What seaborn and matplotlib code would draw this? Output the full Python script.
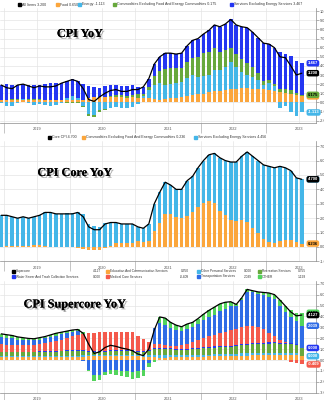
import numpy as np
import pandas as pd
import matplotlib
matplotlib.use("Agg")
import matplotlib.pyplot as plt
import matplotlib.patheffects as pe
from matplotlib.patches import Rectangle
from matplotlib.ticker import FormatStrFormatter
from matplotlib.transforms import blended_transform_factory
import seaborn as sns

# ---------------------------------------------------------------- data
months = pd.period_range("2018-12", "2023-07", freq="M")
year_labels = ["2019", "2020", "2021", "2022", "2023"]

# CPI YoY (%) and contributions (pp)
all_items = [1.9,
             1.6, 1.5, 1.9, 2.0, 1.8, 1.6, 1.8, 1.7, 1.7, 1.8, 2.1, 2.3,
             2.5, 2.3, 1.5, 0.3, 0.1, 0.6, 1.0, 1.3, 1.4, 1.2, 1.2, 1.4,
             1.4, 1.7, 2.6, 4.2, 5.0, 5.4, 5.4, 5.3, 5.4, 6.2, 6.8, 7.0,
             7.5, 7.9, 8.5, 8.3, 8.6, 9.1, 8.5, 8.3, 8.2, 7.7, 7.1, 6.5,
             6.4, 6.0, 5.0, 4.9, 4.0, 3.0, 3.2]
food = [0.21,
        0.22, 0.27, 0.28, 0.24, 0.27, 0.26, 0.24, 0.23, 0.24, 0.28, 0.27, 0.24,
        0.25, 0.25, 0.27, 0.49, 0.56, 0.63, 0.57, 0.57, 0.55, 0.55, 0.52, 0.55,
        0.53, 0.50, 0.49, 0.34, 0.31, 0.34, 0.48, 0.52, 0.64, 0.74, 0.85, 0.88,
        0.96, 1.08, 1.21, 1.29, 1.38, 1.42, 1.49, 1.56, 1.53, 1.49, 1.45, 1.42,
        1.36, 1.28, 1.15, 1.04, 0.90, 0.77, 0.65]
energy = [-0.02,
          -0.37, -0.39, -0.03, 0.13, -0.05, -0.26, -0.15, -0.34, -0.37, -0.32, -0.05, 0.26,
          0.47, 0.21, -0.43, -1.33, -1.38, -0.88, -0.75, -0.60, -0.52, -0.62, -0.63, -0.47,
          -0.23, 0.15, 0.84, 1.61, 1.82, 1.57, 1.52, 1.60, 1.59, 1.92, 2.13, 1.88,
          1.97, 1.87, 2.34, 2.21, 2.53, 3.04, 2.40, 1.74, 1.45, 1.28, 0.96, 0.53,
          0.77, 0.46, -0.57, -0.45, -1.04, -1.49, -1.113]
core_goods = [0.02,
              0.06, 0.08, 0.04, 0.04, 0.08, 0.12, 0.10, 0.04, 0.02, 0.00, 0.02, -0.02,
              -0.02, -0.04, -0.12, -0.18, -0.18, -0.14, -0.08, 0.08, 0.22, 0.22, 0.20, 0.24,
              0.35, 0.27, 0.35, 0.90, 1.33, 1.78, 1.78, 1.62, 1.56, 1.72, 1.93, 2.19,
              2.46, 2.58, 2.46, 2.04, 1.79, 1.49, 1.47, 1.49, 1.39, 1.07, 0.78, 0.44,
              0.28, 0.22, 0.32, 0.43, 0.43, 0.28, 0.175]
core_services = [1.69,
                 1.69, 1.54, 1.61, 1.59, 1.50, 1.48, 1.61, 1.77, 1.81, 1.84, 1.86, 1.82,
                 1.80, 1.88, 1.78, 1.32, 1.10, 0.99, 1.26, 1.25, 1.15, 1.05, 1.11, 1.08,
                 0.75, 0.78, 0.92, 1.35, 1.54, 1.71, 1.62, 1.56, 1.61, 1.82, 1.89, 2.05,
                 2.11, 2.37, 2.49, 2.76, 2.90, 3.15, 3.14, 3.51, 3.83, 3.86, 3.91, 4.11,
                 3.99, 4.04, 4.10, 3.88, 3.71, 3.44, 3.467]

# Core CPI YoY (%) and contributions (pp)
core_cpi = [2.2,
            2.2, 2.1, 2.0, 2.1, 2.0, 2.1, 2.2, 2.4, 2.4, 2.3, 2.3, 2.3,
            2.3, 2.4, 2.1, 1.4, 1.2, 1.2, 1.6, 1.7, 1.7, 1.6, 1.6, 1.6,
            1.4, 1.3, 1.6, 3.0, 3.8, 4.5, 4.3, 4.0, 4.0, 4.6, 4.9, 5.5,
            6.0, 6.4, 6.5, 6.2, 6.0, 5.9, 5.9, 6.3, 6.6, 6.3, 6.0, 5.7,
            5.6, 5.5, 5.6, 5.5, 5.3, 4.8, 4.7]
core_goods_c = [0.03,
                0.08, 0.10, 0.05, 0.05, 0.10, 0.16, 0.13, 0.05, 0.03, 0.00, 0.03, -0.03,
                -0.03, -0.05, -0.16, -0.23, -0.23, -0.18, -0.10, 0.10, 0.28, 0.28, 0.26, 0.31,
                0.44, 0.34, 0.44, 1.12, 1.69, 2.26, 2.26, 2.05, 1.98, 2.18, 2.44, 2.78,
                3.04, 3.20, 3.04, 2.52, 2.21, 1.85, 1.82, 1.85, 1.72, 1.33, 0.96, 0.55,
                0.34, 0.26, 0.39, 0.52, 0.52, 0.34, 0.236]
core_services_c = [2.17,
                   2.12, 2.00, 1.95, 2.05, 1.90, 1.94, 2.07, 2.35, 2.37, 2.30, 2.27, 2.33,
                   2.33, 2.45, 2.26, 1.63, 1.43, 1.38, 1.70, 1.60, 1.42, 1.32, 1.34, 1.29,
                   0.96, 0.96, 1.16, 1.88, 2.11, 2.24, 2.04, 1.95, 2.02, 2.42, 2.46, 2.72,
                   2.96, 3.20, 3.46, 3.68, 3.79, 4.05, 4.08, 4.45, 4.88, 4.97, 5.04, 5.15,
                   5.26, 5.24, 5.21, 4.98, 4.78, 4.46, 4.456]

# Supercore YoY (%) and contributions (pp)
supercore = [2.40,
             2.32, 2.25, 2.12, 2.05, 1.98, 1.95, 2.05, 2.15, 2.30, 2.45, 2.55, 2.65,
             2.75, 2.80, 2.45, 1.45, 0.60, 0.75, 1.15, 1.35, 1.25, 1.10, 1.00, 0.85,
             0.55, 0.40, 1.00, 2.75, 3.95, 3.85, 3.45, 3.20, 3.05, 3.30, 3.45, 3.80,
             4.20, 4.55, 4.85, 5.15, 5.30, 5.35, 5.10, 5.70, 6.48, 6.36, 6.25, 6.20,
             6.15, 6.00, 5.50, 4.95, 4.40, 4.05, 4.127]
education_comm = [0.25,
                  0.25, 0.24, 0.24, 0.25, 0.26, 0.26, 0.27, 0.27, 0.28, 0.28, 0.29, 0.30,
                  0.30, 0.31, 0.32, 0.35, 0.36, 0.36, 0.36, 0.37, 0.37, 0.36, 0.36, 0.35,
                  0.33, 0.31, 0.28, 0.24, 0.22, 0.22, 0.24, 0.25, 0.26, 0.27, 0.29, 0.30,
                  0.32, 0.33, 0.34, 0.36, 0.37, 0.38, 0.39, 0.40, 0.41, 0.42, 0.43, 0.44,
                  0.45, 0.46, 0.46, 0.45, 0.44, 0.42, 0.350]
other_personal = [0.10,
                  0.10, 0.10, 0.10, 0.10, 0.10, 0.10, 0.10, 0.10, 0.10, 0.10, 0.10, 0.10,
                  0.10, 0.10, 0.10, 0.08, 0.07, 0.07, 0.08, 0.08, 0.09, 0.09, 0.09, 0.10,
                  0.12, 0.14, 0.16, 0.18, 0.20, 0.20, 0.19, 0.18, 0.17, 0.16, 0.16, 0.16,
                  0.16, 0.17, 0.18, 0.18, 0.19, 0.19, 0.19, 0.20, 0.20, 0.21, 0.21, 0.21,
                  0.21, 0.22, 0.22, 0.22, 0.21, 0.20, 0.000]
recreation = [0.35,
              0.35, 0.36, 0.36, 0.35, 0.34, 0.34, 0.35, 0.36, 0.37, 0.38, 0.40, 0.42,
              0.42, 0.42, 0.38, 0.32, 0.30, 0.30, 0.32, 0.35, 0.38, 0.40, 0.40, 0.38,
              0.30, 0.25, 0.35, 0.55, 0.62, 0.60, 0.55, 0.50, 0.48, 0.50, 0.55, 0.58,
              0.60, 0.62, 0.62, 0.62, 0.62, 0.65, 0.70, 0.75, 0.80, 0.82, 0.85, 0.85,
              0.85, 0.85, 0.82, 0.80, 0.78, 0.76, 0.755]
water_sewer = [0.08,
               0.08, 0.08, 0.08, 0.08, 0.08, 0.08, 0.08, 0.08, 0.08, 0.08, 0.08, 0.08,
               0.09, 0.09, 0.09, 0.09, 0.09, 0.09, 0.09, 0.09, 0.09, 0.09, 0.09, 0.09,
               0.09, 0.09, 0.09, 0.09, 0.09, 0.09, 0.09, 0.09, 0.09, 0.09, 0.09, 0.09,
               0.10, 0.10, 0.10, 0.10, 0.10, 0.10, 0.10, 0.10, 0.10, 0.10, 0.10, 0.10,
               0.10, 0.10, 0.10, 0.10, 0.10, 0.10, 0.000]
medical_care = [0.65,
                0.62, 0.60, 0.58, 0.58, 0.60, 0.62, 0.66, 0.72, 0.80, 0.88, 1.00, 1.12,
                1.30, 1.40, 1.50, 1.60, 1.70, 1.75, 1.72, 1.70, 1.68, 1.65, 1.65, 1.65,
                1.35, 1.10, 0.80, 0.45, 0.30, 0.25, 0.25, 0.30, 0.40, 0.45, 0.55, 0.70,
                0.85, 1.00, 1.10, 1.20, 1.30, 1.40, 1.50, 1.55, 1.65, 1.55, 1.40, 1.20,
                0.90, 0.60, 0.25, 0.05, -0.15, -0.30, -0.409]
transportation = [0.65,
                  0.62, 0.60, 0.52, 0.48, 0.42, 0.40, 0.42, 0.45, 0.48, 0.50, 0.48, 0.45,
                  0.40, 0.38, -0.10, -0.90, -1.40, -1.35, -1.10, -0.95, -0.95, -1.00, -1.05, -1.10,
                  -1.00, -0.95, -0.30, 1.40, 2.00, 1.85, 1.65, 1.45, 1.30, 1.40, 1.40, 1.45,
                  1.60, 1.70, 1.80, 2.00, 2.10, 2.20, 2.05, 2.55, 3.10, 3.10, 3.05, 3.15,
                  3.30, 3.35, 3.10, 2.75, 2.40, 2.10, 2.039]
other = [0.32,
         0.30, 0.27, 0.24, 0.21, 0.18, 0.15, 0.17, 0.17, 0.19, 0.23, 0.20, 0.18,
         0.14, 0.10, 0.16, -0.09, -0.52, -0.47, -0.32, -0.29, -0.41, -0.49, -0.54, -0.62,
         -0.64, -0.54, -0.38, -0.16, 0.52, 0.64, 0.48, 0.43, 0.35, 0.43, 0.41, 0.52,
         0.57, 0.63, 0.71, 0.69, 0.62, 0.43, 0.17, 0.15, 0.22, 0.16, 0.21, 0.25,
         0.34, 0.42, 0.55, 0.58, 0.62, 0.77, 1.193]

# ---------------------------------------------------------------- style
ORANGE = "#fba63c"
SKY = "#44b6e8"
OLIVE = "#67a83c"
ROYAL = "#2436f2"
RED = "#f45a4c"
TRANS = "#2f6ce6"
LIME = "#52d45c"

sns.set_theme(style="white")
plt.rcParams["font.family"] = ["Liberation Sans", "DejaVu Sans"]

W, H = 324, 400
fig = plt.figure(figsize=(W / 100, H / 100), dpi=100)
fig.patch.set_facecolor("white")

# month index: bar centres sit mid-month, Jan 2019 starts at 0
x = np.array([(p.year - 2019) * 12 + p.month - 1 for p in months]) + 0.5
BAR_W = 0.64


def px_axes(top, bottom, right=316):
    return fig.add_axes([0, 1 - bottom / H, right / W, (bottom - top) / H])


def stacked_bars(ax, parts, colors):
    pos = np.zeros(len(x))
    neg = np.zeros(len(x))
    for vals, c in zip(parts, colors):
        v = np.asarray(vals, float)
        base = np.where(v >= 0, pos, neg)
        ax.bar(x, v, width=BAR_W, bottom=base, color=c, linewidth=0, zorder=2)
        pos = pos + np.clip(v, 0, None)
        neg = neg + np.clip(v, None, 0)


def draw_line(ax, vals):
    sns.lineplot(x=x, y=vals, ax=ax, color="black", linewidth=0.9, zorder=5)


def style_axes(ax, ylo, yhi):
    ax.set_xlim(-0.73, 57.1)
    ax.set_ylim(ylo, yhi)
    ax.set_xlabel("")
    ax.set_ylabel("")
    ax.yaxis.tick_right()
    ax.set_yticks(np.arange(int(np.ceil(ylo)), int(np.floor(yhi)) + 1))
    ax.yaxis.set_major_formatter(FormatStrFormatter("%.2f"))
    ax.tick_params(axis="y", labelsize=2.8, length=2, width=0.4, pad=1,
                   color="#777777", labelcolor="#444444", right=True, left=False)
    ax.set_xticks([0, 12, 24, 36, 48])
    ax.set_xticklabels([])
    ax.set_xticks([6, 18, 30, 42, 54], minor=True)
    ax.set_xticklabels(year_labels, minor=True)
    ax.tick_params(axis="x", which="major", length=7, width=0.4, color="#999999",
                   direction="out", bottom=True)
    ax.tick_params(axis="x", which="minor", length=0, labelsize=2.8, pad=3,
                   labelcolor="#555555")
    ax.grid(False)
    for yv in ax.get_yticks():
        ax.axhline(yv, color="#e4e4e4", lw=0.5, zorder=0)
    for xv in np.arange(0, 57, 6):
        ax.axvline(xv, color="#e4e4e4", lw=0.5, zorder=0)
    for s in ("top", "left"):
        ax.spines[s].set_visible(False)
    for s in ("right", "bottom"):
        ax.spines[s].set_color("#8a8a8a")
        ax.spines[s].set_linewidth(0.5)
    ax.set_facecolor("white")


def title(text, cx, cy):
    fig.text(cx / W, 1 - cy / H, text, ha="center", va="center",
             fontsize=8.8, fontweight="bold", family=["Liberation Serif"],
             color="black", zorder=20,
             path_effects=[pe.withSimplePatchShadow(offset=(1.3, -1.3),
                                                    shadow_rgbFace=(0.35, 0.35, 0.35),
                                                    alpha=0.55),
                           pe.Normal()])


def legend_item(px, py, color, label, value, value_right=None, fs=2.6):
    fig.patches.append(Rectangle((px / W, 1 - (py + 1.5) / H), 3.0 / W, 3.0 / H,
                                 transform=fig.transFigure, color=color, zorder=20))
    txt = label if value_right is not None else f"{label} {value}"
    fig.text((px + 4.2) / W, 1 - py / H, txt, ha="left", va="center",
             fontsize=fs, color="#333333")
    if value_right is not None:
        fig.text(value_right / W, 1 - py / H, value, ha="right", va="center",
                 fontsize=fs, color="#333333")


def tag(ax, yv, text, color, tcolor="white"):
    tr = blended_transform_factory(ax.transAxes, ax.transData)
    ax.text(0.974, yv, text, transform=tr, ha="left", va="center", fontsize=3.0,
            color=tcolor, fontweight="bold", clip_on=False, zorder=30,
            bbox=dict(boxstyle="round,pad=0.3,rounding_size=0.5", fc=color, ec="none"))


# ---------------------------------------------------------------- CPI YoY
ax1 = px_axes(8, 123)
style_axes(ax1, -2.27, 10.36)
stacked_bars(ax1, [food, energy, core_goods, core_services],
             [ORANGE, SKY, OLIVE, ROYAL])
draw_line(ax1, all_items)
title("CPI YoY", 80, 34)
legend_item(18, 4.5, "black", "All Items", f"{all_items[-1]:.3f}")
legend_item(56, 4.5, ORANGE, "Food", f"{food[-1]:.3f}")
legend_item(78, 4.5, SKY, "Energy", f"{energy[-1]:.3f}")
legend_item(113, 4.5, OLIVE, "Commodities Excluding Food And Energy Commodities",
            f"{core_goods[-1]:.3f}")
legend_item(230, 4.5, ROYAL, "Services Excluding Energy Services",
            f"{core_services[-1]:.3f}")
top1 = food[-1] + core_goods[-1] + core_services[-1]
tag(ax1, top1, f"{core_services[-1]:.3f}", ROYAL)
tag(ax1, all_items[-1], f"{all_items[-1]:.3f}", "black")
tag(ax1, food[-1], f"{food[-1]:.3f}", ORANGE, "black")
tag(ax1, food[-1] + core_goods[-1], f"{core_goods[-1]:.3f}", OLIVE, "black")
tag(ax1, energy[-1], f"{energy[-1]:.3f}", SKY)

# ---------------------------------------------------------------- CPI Core YoY
ax2 = px_axes(141, 261.4)
style_axes(ax2, -1.0, 7.36)
stacked_bars(ax2, [core_goods_c, core_services_c], [ORANGE, SKY])
draw_line(ax2, core_cpi)
title("CPI Core YoY", 75, 173)
legend_item(48, 137, "black", "Core CPI", f"{core_cpi[-1]:.3f}")
legend_item(82, 137, ORANGE, "Commodities Excluding Food And Energy Commodities",
            f"{core_goods_c[-1]:.3f}")
legend_item(194, 137, SKY, "Services Excluding Energy Services",
            f"{core_services_c[-1]:.3f}")
tag(ax2, core_goods_c[-1] + core_services_c[-1], f"{core_services_c[-1]:.3f}", SKY)
tag(ax2, core_cpi[-1], f"{core_cpi[-1]:.3f}", "black")
tag(ax2, core_goods_c[-1], f"{core_goods_c[-1]:.3f}", ORANGE, "black")

# ---------------------------------------------------------------- CPI Supercore YoY
ax3 = px_axes(281, 392.7)
style_axes(ax3, -3.0, 7.25)
parts3 = [education_comm, other_personal, recreation, water_sewer,
          medical_care, transportation, other]
cols3 = [ORANGE, SKY, OLIVE, ROYAL, RED, TRANS, LIME]
stacked_bars(ax3, parts3, cols3)
draw_line(ax3, supercore)
title("CPI Supercore YoY", 75, 304.5)
FS3 = 2.35
legend_item(12, 271, "black", "Supercore", f"{supercore[-1]:.3f}", 101, FS3)
legend_item(106, 271, ORANGE, "Education And Communication Services",
            f"{education_comm[-1]:.3f}", 189, FS3)
legend_item(197, 271, SKY, "Other Personal Services", f"{other_personal[-1]:.3f}", 252, FS3)
legend_item(258, 271, OLIVE, "Recreation Services", f"{recreation[-1]:.3f}", 306, FS3)
legend_item(12, 276.5, ROYAL, "Water Sewer And Trash Collection Services",
            f"{water_sewer[-1]:.3f}", 101, FS3)
legend_item(106, 276.5, RED, "Medical Care Services", f"{medical_care[-1]:.3f}", 189, FS3)
legend_item(197, 276.5, TRANS, "Transportation Services", f"{transportation[-1]:.3f}", 252, FS3)
legend_item(258, 276.5, LIME, "OTHER", f"{other[-1]:.3f}", 306, FS3)

last = [v[-1] for v in parts3]
pos_cum = np.cumsum([max(v, 0) for v in last])
tag(ax3, pos_cum[6], f"{other[-1]:.3f}", LIME, "black")
tag(ax3, supercore[-1], f"{supercore[-1]:.3f}", "black")
tag(ax3, pos_cum[5], f"{transportation[-1]:.3f}", TRANS)
tag(ax3, pos_cum[3], f"{water_sewer[-1]:.3f}", ROYAL)
tag(ax3, pos_cum[1], f"{other_personal[-1]:.3f}", SKY)
tag(ax3, medical_care[-1], f"{medical_care[-1]:.3f}", RED)

fig.savefig("out.png", dpi=100, facecolor="white")
